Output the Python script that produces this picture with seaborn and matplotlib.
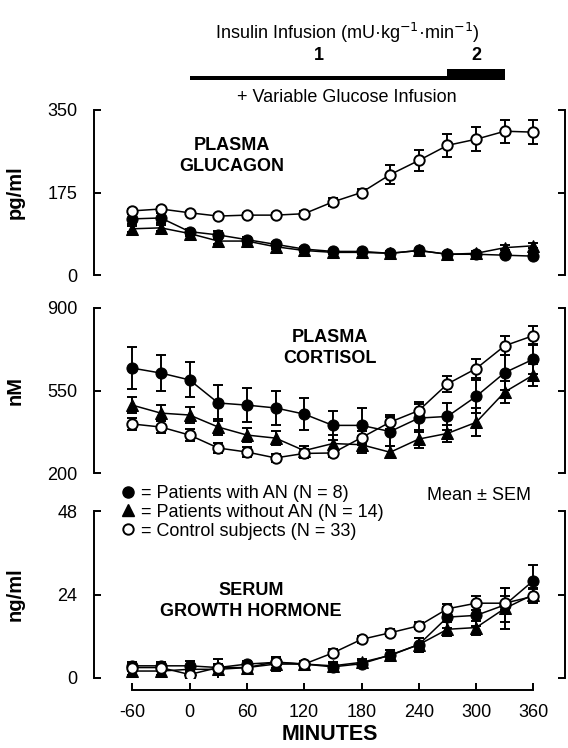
import numpy as np
import pandas as pd
import seaborn as sns
import matplotlib.pyplot as plt
from matplotlib.lines import Line2D

sns.set_theme(style="ticks")
plt.rcParams['font.family'] = ['Liberation Sans', 'DejaVu Sans']
for k in ['text.color', 'axes.labelcolor', 'xtick.color', 'ytick.color', 'axes.edgecolor']:
    plt.rcParams[k] = 'black'

# time points (minutes)
minutes = [-60, -30, 0, 30, 60, 90, 120, 150, 180, 210, 240, 270, 300, 330, 360]

# plasma glucagon (pg/ml)
glu_an = [119, 121, 92, 85, 75, 65, 55, 50, 50, 46, 52, 44, 44, 42, 40]
glu_an_se = [10, 10, 6, 8, 6, 6, 5, 4, 4, 4, 4, 4, 4, 4, 4]
glu_noan = [98, 100, 88, 72, 72, 60, 52, 48, 48, 46, 52, 44, 46, 58, 62]
glu_noan_se = [6, 6, 6, 6, 6, 5, 4, 4, 4, 4, 4, 4, 4, 5, 5]
glu_ctrl = [136, 140, 132, 125, 127, 127, 130, 155, 175, 213, 243, 275, 288, 305, 303]
glu_ctrl_se = [5, 5, 4, 4, 4, 4, 5, 8, 8, 20, 22, 25, 26, 24, 25]

# plasma cortisol (nM)
cor_an = [645, 624, 595, 497, 488, 476, 450, 402, 402, 376, 433, 440, 525, 626, 683]
cor_an_se = [90, 78, 74, 78, 71, 74, 67, 62, 75, 62, 60, 58, 70, 75, 65]
cor_noan = [488, 454, 446, 395, 361, 348, 295, 325, 320, 288, 344, 368, 415, 544, 616]
cor_noan_se = [35, 35, 35, 35, 30, 30, 20, 35, 35, 25, 40, 35, 60, 45, 45]
cor_ctrl = [408, 395, 361, 306, 289, 264, 283, 285, 350, 416, 465, 578, 643, 740, 783]
cor_ctrl_se = [25, 25, 25, 22, 20, 18, 18, 18, 30, 30, 35, 35, 40, 40, 40]

# serum growth hormone (ng/ml)
gh_an = [3.5, 3.5, 3.5, 3.0, 4.0, 4.5, 4.0, 3.2, 4.1, 6.6, 9.6, 17.5, 18.0, 21.0, 28.0]
gh_an_se = [1, 1, 1.5, 1, 1, 1.5, 1, 1, 1, 1.5, 2, 3, 3, 5, 4.5]
gh_noan = [2.0, 2.0, 2.5, 2.5, 3.0, 4.0, 4.0, 3.5, 4.5, 6.5, 9.6, 14.0, 14.5, 20.0, 24.0]
gh_noan_se = [1, 1, 1, 3, 1, 2, 1, 1, 1, 1.5, 2, 2, 2, 6, 2]
gh_ctrl = [3.0, 3.0, 1.0, 3.0, 3.0, 4.6, 4.0, 7.2, 11.1, 13.0, 15.0, 19.9, 21.5, 21.5, 23.5]
gh_ctrl_se = [1, 1, 1, 1, 1, 1, 1, 1, 1, 1, 1, 1.5, 2, 2, 2]

groups = ['Patients without AN (N = 14)', 'Patients with AN (N = 8)', 'Control subjects (N = 33)']

# insulin infusion schedule
insulin_start = [0, 270]
insulin_end = [270, 330]
insulin_rate = [1, 2]

panels = [
    ('PLASMA\nGLUCAGON', 'pg/ml', [0, 175, 350], [glu_noan, glu_an, glu_ctrl], [glu_noan_se, glu_an_se, glu_ctrl_se]),
    ('PLASMA\nCORTISOL', 'nM', [200, 550, 900], [cor_noan, cor_an, cor_ctrl], [cor_noan_se, cor_an_se, cor_ctrl_se]),
    ('SERUM\nGROWTH HORMONE', 'ng/ml', [0, 24, 48], [gh_noan, gh_an, gh_ctrl], [gh_noan_se, gh_an_se, gh_ctrl_se]),
]

W, H = 568, 748
fig = plt.figure(figsize=(W / 100, H / 100), dpi=100)


def px_axes(x0, y0, x1, y1):
    return fig.add_axes([x0 / W, 1 - y1 / H, (x1 - x0) / W, (y1 - y0) / H])


styles = {
    groups[0]: dict(marker='^', markersize=8.5, markerfacecolor='black', markeredgecolor='black'),
    groups[1]: dict(marker='o', markersize=8, markerfacecolor='black', markeredgecolor='black'),
    groups[2]: dict(marker='o', markersize=7.5, markerfacecolor='white', markeredgecolor='black', markeredgewidth=1.4),
}

rows = [(110, 275), (308, 473), (511, 678)]
title_pos = [(232, 156), (330, 348), (251, 601)]
xlim = (-100, 393)

for i, (title, unit, ticks, series, errs) in enumerate(panels):
    ax = px_axes(94, rows[i][0], 565, rows[i][1])
    for g, vals, se in zip(groups, series, errs):
        df = pd.DataFrame({'minutes': minutes, 'value': vals})
        ax.errorbar(minutes, vals, yerr=se, fmt='none', ecolor='black',
                    elinewidth=1.4, capsize=3.5, capthick=1.4, zorder=1)
        sns.lineplot(data=df, x='minutes', y='value', ax=ax, color='black',
                     linewidth=1.1, zorder=3, **styles[g])
    ax.set_xlim(*xlim)
    ax.set_ylim(ticks[0], ticks[-1])
    ax.set_yticks(ticks)
    ax.set_yticklabels([str(t) for t in ticks], fontsize=13)
    ax.tick_params(axis='y', direction='in', length=5, width=1.4, pad=12,
                   right=True, labelright=False)
    ax.set_ylabel(unit, fontsize=14.5, fontweight='bold')
    ax.yaxis.set_label_coords(-0.1465, 0.5)
    ax.spines['top'].set_visible(False)
    for s in ['left', 'right']:
        ax.spines[s].set_linewidth(1.4)
    fig.text(title_pos[i][0] / W, 1 - title_pos[i][1] / H, title, fontsize=13,
             fontweight='bold', ha='center', va='center', linespacing=1.25)
    if i < 2:
        ax.spines['bottom'].set_visible(False)
        ax.set_xticks([])
        ax.set_xlabel('')
    else:
        ax.spines['bottom'].set_position(('outward', 12 * 0.72))
        ax.spines['bottom'].set_bounds(-60, 360)
        ax.spines['bottom'].set_linewidth(1.4)
        ax.set_xticks(range(-60, 361, 60))
        ax.set_xticklabels([str(t) for t in range(-60, 361, 60)], fontsize=13)
        ax.tick_params(axis='x', direction='in', length=5, width=1.4, pad=10)
        ax.set_xlabel('MINUTES', fontsize=15.5, fontweight='bold', labelpad=2)

# legend
order = [groups[1], groups[0], groups[2]]
handles = [Line2D([], [], linestyle='none', color='black', **styles[g]) for g in order]
labels = ['= ' + g for g in order]
fig.legend(handles, labels, loc='upper left', bbox_to_anchor=(122 / W, 1 - 485 / H),
           frameon=False, fontsize=13, handlelength=0.7, handletextpad=0.35,
           labelspacing=0.1, borderpad=0, borderaxespad=0)
fig.text(427 / W, 1 - 495 / H, 'Mean ± SEM', fontsize=13, ha='left', va='center')

# insulin infusion bar on top (y axis in pixel rows, inverted)
axt = px_axes(94, 20, 565, 105)
axt.set_xlim(*xlim)
axt.set_ylim(105, 20)
axt.axis('off')
bar_h = {1: 4.5, 2: 11}
for s, e, r in zip(insulin_start, insulin_end, insulin_rate):
    axt.bar(s, -bar_h[r], width=e - s, bottom=80, align='edge', color='black', linewidth=0)
    axt.text((s + e) / 2, 56, str(r), fontsize=13, ha='center', va='center', fontweight='bold')
mid = (insulin_start[0] + insulin_end[-1]) / 2
axt.text(mid, 33, 'Insulin Infusion (mU·kg$^{-1}$·min$^{-1}$)', fontsize=13,
         ha='center', va='center')
axt.text(mid, 98, '+ Variable Glucose Infusion', fontsize=13, ha='center', va='center')

fig.savefig('out.png', dpi=100)
